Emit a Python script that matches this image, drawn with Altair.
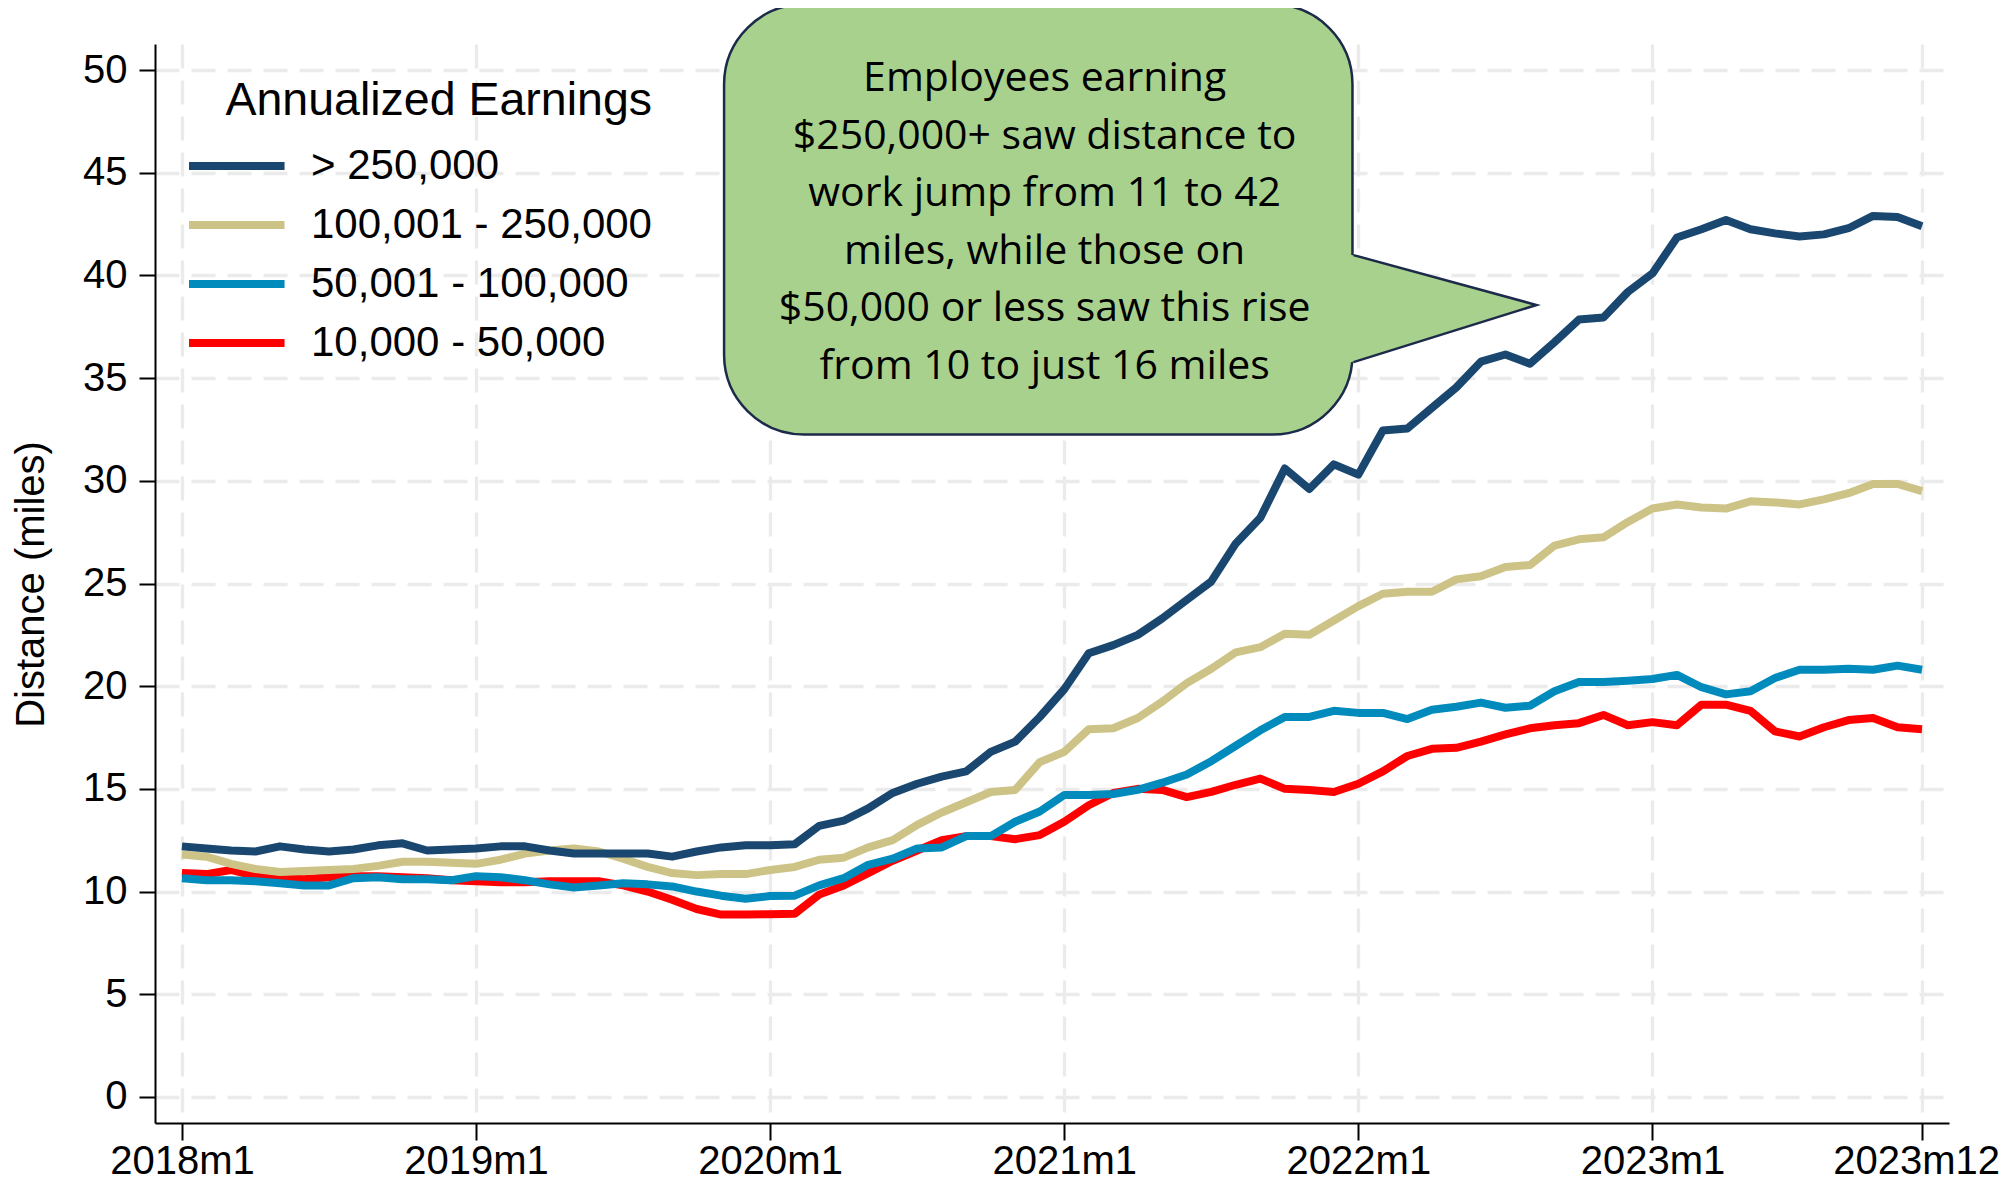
import altair as alt
import pandas as pd

# ---------------- data ----------------
month_index = list(range(72))

over_250k = [
    12.2, 12.1, 12.0, 11.95, 12.2, 12.05, 11.95, 12.05, 12.25, 12.35, 12.0, 12.05,
    12.1, 12.2, 12.2, 12.0, 11.85, 11.85, 11.85, 11.85, 11.7, 11.95, 12.15, 12.25,
    12.25, 12.3, 13.2, 13.45, 14.05, 14.8, 15.25, 15.6, 15.85, 16.8, 17.3, 18.5,
    19.85, 21.6, 22.0, 22.5, 23.3, 24.2, 25.1, 26.95, 28.2, 30.6, 29.6, 30.8,
    30.3, 32.45, 32.55, 33.55, 34.55, 35.8, 36.15, 35.7, 36.75, 37.85, 37.95, 39.2,
    40.1, 41.85, 42.25, 42.7, 42.25, 42.05, 41.9, 42.0, 42.3, 42.9, 42.85, 42.4,
]
from_100k_250k = [
    11.8, 11.7, 11.35, 11.1, 10.95, 11.0, 11.05, 11.1, 11.25, 11.45, 11.45, 11.4,
    11.35, 11.55, 11.85, 12.0, 12.1, 11.95, 11.6, 11.2, 10.9, 10.8, 10.85, 10.85,
    11.05, 11.2, 11.55, 11.65, 12.15, 12.5, 13.25, 13.85, 14.35, 14.85, 14.95, 16.3,
    16.8, 17.9, 17.95, 18.45, 19.25, 20.15, 20.85, 21.65, 21.9, 22.55, 22.5, 23.2,
    23.9, 24.5, 24.6, 24.6, 25.2, 25.35, 25.8, 25.9, 26.85, 27.15, 27.25, 28.0,
    28.65, 28.85, 28.7, 28.65, 29.0, 28.95, 28.85, 29.1, 29.4, 29.85, 29.85, 29.5,
]
from_50k_100k = [
    10.65, 10.55, 10.55, 10.5, 10.4, 10.3, 10.3, 10.65, 10.7, 10.6, 10.6, 10.55,
    10.75, 10.7, 10.55, 10.35, 10.2, 10.3, 10.4, 10.35, 10.25, 10.0, 9.8, 9.65,
    9.78, 9.8, 10.3, 10.65, 11.3, 11.6, 12.1, 12.15, 12.7, 12.7, 13.4, 13.9,
    14.7, 14.7, 14.75, 14.95, 15.3, 15.7, 16.35, 17.1, 17.85, 18.5, 18.5, 18.8,
    18.7, 18.7, 18.4, 18.85, 19.0, 19.2, 18.95, 19.05, 19.75, 20.2, 20.2, 20.27,
    20.35, 20.55, 19.95, 19.6, 19.75, 20.4, 20.8, 20.8, 20.85, 20.8, 21.0, 20.8,
]
from_10k_50k = [
    10.9, 10.85, 11.05, 10.75, 10.65, 10.6, 10.7, 10.75, 10.75, 10.7, 10.65, 10.55,
    10.5, 10.45, 10.45, 10.5, 10.5, 10.5, 10.3, 10.0, 9.6, 9.15, 8.88, 8.88,
    8.9, 8.92, 9.85, 10.3, 10.9, 11.5, 12.0, 12.5, 12.7, 12.7, 12.55, 12.75,
    13.4, 14.2, 14.8, 15.0, 14.95, 14.6, 14.85, 15.2, 15.5, 15.0, 14.95, 14.85,
    15.25, 15.85, 16.6, 16.95, 17.0, 17.3, 17.65, 17.95, 18.1, 18.2, 18.6, 18.1,
    18.25, 18.1, 19.1, 19.1, 18.8, 17.8, 17.55, 18.0, 18.35, 18.45, 18.0, 17.9,
]

series_labels = ["> 250,000", "100,001 - 250,000", "50,001 - 100,000", "10,000 - 50,000"]
series_values = [over_250k, from_100k_250k, from_50k_100k, from_10k_50k]
series_colors = ["#1A476F", "#CDC386", "#008BBC", "#FF0000"]

x_tick_values = [0, 12, 24, 36, 48, 60, 71]
x_tick_labels = ["2018m1", "2019m1", "2020m1", "2021m1", "2022m1", "2023m1", "2023m12"]
y_tick_values = [0, 5, 10, 15, 20, 25, 30, 35, 40, 45, 50]

callout_lines = [
    "Employees earning",
    "$250,000+ saw distance to",
    "work jump from 11 to 42",
    "miles, while those on",
    "$50,000 or less saw this rise",
    "from 10 to just 16 miles",
]

# ---------------- annotation geometry (data units) ----------------
BOX_X0, BOX_X1 = 22.12, 47.76
BOX_Y0, BOX_Y1 = 53.2, 32.25
PTR_X_BASE, PTR_X_TIP = 47.8, 55.27
PTR_Y_TOP, PTR_Y_TIP, PTR_Y_BOT = 40.99, 38.56, 35.78
TEXT_X, TEXT_Y_FIRST = 35.2, 49.55

# ---------------- build table (draw order: lowest series first) ----------------
rows = []
for label, vals in reversed(list(zip(series_labels, series_values))):
    for t, v in zip(month_index, vals):
        rows.append({"t": t, "value": v, "group": label})
df = pd.DataFrame(rows)

label_expr = ""
for v, lab in zip(x_tick_values, x_tick_labels):
    label_expr += f"datum.value == {v} ? '{lab}' : "
label_expr += "''"

FONT = "Liberation Sans"
GRID = dict(grid=True, gridColor="#EBEBEB", gridWidth=3.3, gridDash=[24, 12])

x_enc = alt.X(
    "t:Q",
    scale=alt.Scale(domain=[-1.1, 72.1], nice=False, zero=False),
    axis=alt.Axis(
        values=x_tick_values, labelExpr=label_expr, title=None,
        labelFont=FONT, labelFontSize=40, labelColor="black",
        labelOffset={"condition": {"test": f"datum.value == {x_tick_values[-1]}", "value": -6}, "value": 0},
        tickSize=17, tickWidth=2, tickColor="black",
        domainColor="black", domainWidth=2, labelPadding=1,
        labelFlush=False, labelOverlap=False, **GRID,
    ),
)
y_enc = alt.Y(
    "value:Q",
    scale=alt.Scale(domain=[-1.27, 51.27], nice=False, zero=False),
    axis=alt.Axis(
        values=y_tick_values, title="Distance (miles)",
        titleFont=FONT, titleFontSize=40, titleFontWeight="normal", titleColor="black",
        titleX=-124, titleY=540, titleBaseline="middle",
        labelFont=FONT, labelFontSize=40, labelColor="black",
        tickSize=16, tickWidth=2, tickColor="black",
        domainColor="black", domainWidth=2, labelPadding=12, **GRID,
    ),
)

lines = alt.Chart(df).mark_line(strokeWidth=8, strokeJoin="round").encode(
    x=x_enc,
    y=y_enc,
    color=alt.Color(
        "group:N",
        scale=alt.Scale(domain=series_labels, range=series_colors),
        legend=alt.Legend(
            title="Annualized Earnings", orient="none", legendX=30, legendY=34,
            titleFont=FONT, titleFontSize=46.5, titleFontWeight="normal", titleColor="black",
            titleAnchor="end", titlePadding=13, titleLimit=0,
            labelFont=FONT, labelFontSize=42, labelColor="black", labelOffset=69,
            labelLimit=0,
            symbolType="M -1 0 L 2.9 0", symbolSize=2401, symbolStrokeWidth=8,
            rowPadding=9, padding=0,
        ),
    ),
    order=alt.Order("t:Q"),
)

anno = pd.DataFrame({"k": [0]})

box = alt.Chart(anno).mark_rect(
    cornerRadius=80, fill="#A9D18E", stroke="#1C2B4A", strokeWidth=2.5
).encode(
    x=alt.datum(BOX_X0), x2=alt.datum(BOX_X1),
    y=alt.datum(BOX_Y0), y2=alt.datum(BOX_Y1),
)

ptr_fill_df = pd.DataFrame({
    "px": [PTR_X_BASE - 0.3, PTR_X_TIP],
    "py": [PTR_Y_TOP + 0.08, PTR_Y_TIP],
    "py2": [PTR_Y_BOT - 0.08, PTR_Y_TIP],
})
ptr_fill = alt.Chart(ptr_fill_df).mark_area(fill="#A9D18E", opacity=1).encode(
    x="px:Q", y="py:Q", y2="py2:Q"
)

ptr_edge_df = pd.DataFrame({
    "px": [PTR_X_BASE, PTR_X_TIP, PTR_X_BASE],
    "py": [PTR_Y_TOP, PTR_Y_TIP, PTR_Y_BOT],
    "o": [0, 1, 2],
})
ptr_edge = alt.Chart(ptr_edge_df).mark_line(
    stroke="#1C2B4A", strokeWidth=2.5, strokeJoin="miter"
).encode(x="px:Q", y="py:Q", order="o:Q")

text = alt.Chart(anno).mark_text(
    text=callout_lines, font="Open Sans", fontSize=41, color="black",
    lineHeight=57.5, align="center", baseline="middle",
).encode(x=alt.datum(TEXT_X), y=alt.datum(TEXT_Y_FIRST))

chart = alt.layer(lines, box, ptr_fill, ptr_edge, text).properties(
    width=1794, height=1079,
    autosize=alt.AutoSizeParams(type="none"),
    padding={"left": 147, "top": 36, "right": 53, "bottom": 58},
    background="white",
).configure_view(stroke=None)

chart.save("out.html", embed_options={"renderer": "svg", "actions": False})
